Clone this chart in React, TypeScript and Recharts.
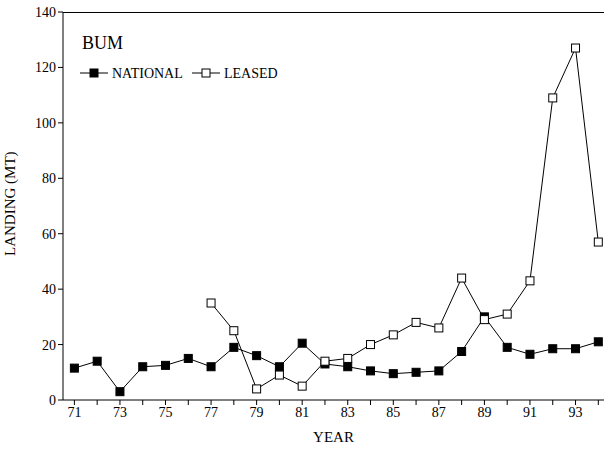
import { LineChart, Line, XAxis, YAxis } from "recharts";

const years = [71,72,73,74,75,76,77,78,79,80,81,82,83,84,85,86,87,88,89,90,91,92,93,94];
const national = [11.5,14,3,12,12.5,15,12,19,16,12,20.5,13,12,10.5,9.5,10,10.5,17.5,30,19,16.5,18.5,18.5,21];
const leased = [null,null,null,null,null,null,35,25,4,9,5,14,15,20,23.5,28,26,44,29,31,43,109,127,57];
const yTicks = [0,20,40,60,80,100,120,140];

const data = years.map((y, i) => ({ year: y, national: national[i], leased: leased[i] }));

const font = "'Liberation Serif', 'DejaVu Serif', serif";

const Square = (fill: string) => (props: any) => {
  const { cx, cy, value, index } = props;
  if (value == null || cx == null) return <g key={index} />;
  return <rect key={index} x={cx - 4} y={cy - 4} width={8} height={8} fill={fill} stroke="#000" strokeWidth={1} />;
};

export default function App() {
  return (
    <div style={{ position: "absolute", left: 0, top: 0, width: 607, height: 450, background: "#fff", fontFamily: font }}>
      <LineChart width={607} height={450} data={data} margin={{ top: 12, right: 3, bottom: 8, left: 20 }}>
        <XAxis
          dataKey="year"
          type="number"
          height={42}
          domain={[70.5, 94.25]}
          ticks={years}
          interval={0}
          tickFormatter={(v: number) => (v % 2 === 1 ? String(v) : "")}
          stroke="#000"
          tickSize={5}
          tick={{ fill: "#000", fontSize: 14, fontFamily: font }}
          label={{ value: "YEAR", position: "insideBottom", offset: 0, fill: "#000", fontSize: 15, fontFamily: font }}
        />
        <YAxis
          width={43}
          domain={[0, 140]}
          ticks={yTicks}
          interval={0}
          stroke="#000"
          tickSize={5}
          tick={{ fill: "#000", fontSize: 14, fontFamily: font }}
          label={{ value: "LANDING (MT)", angle: -90, position: "insideLeft", offset: -10, dy: 50, fill: "#000", fontSize: 15, fontFamily: font }}
        />
        <Line dataKey="national" stroke="#000" strokeWidth={1} dot={Square("#000")} isAnimationActive={false} />
        <Line dataKey="leased" stroke="#000" strokeWidth={1} dot={Square("#fff")} isAnimationActive={false} connectNulls={false} />
      </LineChart>
      <div style={{ position: "absolute", left: 63, top: 12, width: 541, height: 388, borderTop: "1px solid #000", pointerEvents: "none" }} />
      <div style={{ position: "absolute", left: 82, top: 33, fontSize: 18 }}>BUM</div>
      <svg style={{ position: "absolute", left: 80, top: 64 }} width={220} height={18}>
        <line x1={0} y1={9} x2={28} y2={9} stroke="#000" />
        <rect x={10} y={5} width={8} height={8} fill="#000" stroke="#000" />
        <text x={32} y={14} fontSize={14} fontFamily={font}>NATIONAL</text>
        <line x1={112} y1={9} x2={140} y2={9} stroke="#000" />
        <rect x={122} y={5} width={8} height={8} fill="#fff" stroke="#000" />
        <text x={144} y={14} fontSize={14} fontFamily={font}>LEASED</text>
      </svg>
    </div>
  );
}
